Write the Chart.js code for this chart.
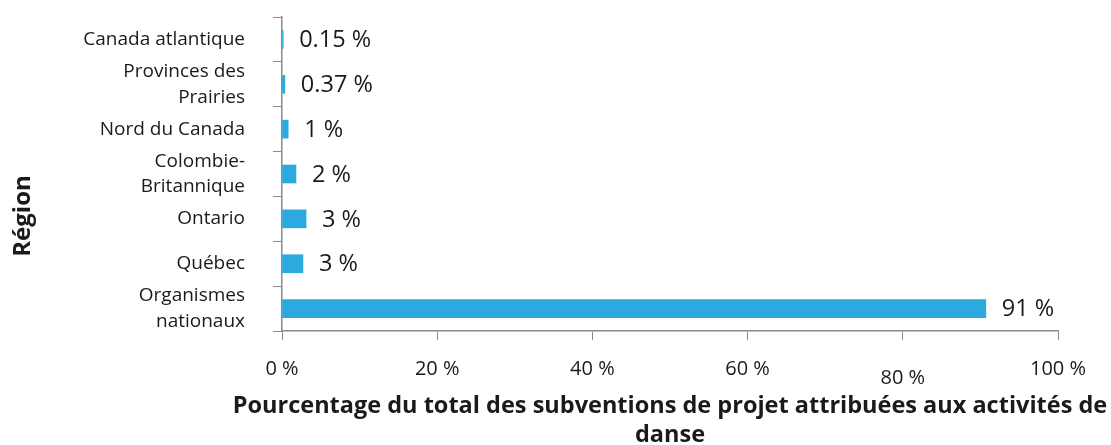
<!DOCTYPE html>
<html lang="fr">
<head>
<meta charset="utf-8">
<title>Subventions de projet - danse</title>
<script src="https://cdn.jsdelivr.net/npm/chart.js@4/dist/chart.umd.min.js"></script>
<style>
  html, body { margin: 0; padding: 0; background: #fff; }
  #wrap { width: 1111px; height: 445px; }
</style>
</head>
<body>
<div id="wrap"><canvas id="chart" width="1111" height="445"></canvas></div>
<script>
// données
const regions = [
  'Canada atlantique',
  ['Provinces des', 'Prairies'],
  'Nord du Canada',
  ['Colombie-', 'Britannique'],
  'Ontario',
  'Québec',
  ['Organismes', 'nationaux']
];
const pourcentages = [0.15, 0.37, 0.8, 1.8, 3.1, 2.7, 90.7];
const etiquettes = ['0.15 %', '0.37 %', '1 %', '2 %', '3 %', '3 %', '91 %'];
const graduations = [0, 20, 40, 60, 80, 100];
const titreX = ['Pourcentage du total des subventions de projet attribuées aux activités de', 'danse'];
const titreY = 'Région';

const TEXTE = '#1a1a1a';
const AXE = '#8a8a8a';

// étiquettes des barres
const etiquettesBarres = {
  id: 'etiquettesBarres',
  afterDatasetsDraw(chart) {
    const ctx = chart.ctx;
    const meta = chart.getDatasetMeta(0);
    ctx.save();
    ctx.font = '23.5px "Open Sans", sans-serif';
    ctx.fillStyle = TEXTE;
    ctx.textBaseline = 'middle';
    ctx.textAlign = 'left';
    meta.data.forEach((bar, i) => {
      ctx.fillText(etiquettes[i], bar.x + 16, bar.y + 1);
    });
    ctx.restore();
  }
};

// titres des axes (sans compression de largeur)
const titresAxes = {
  id: 'titresAxes',
  afterDraw(chart) {
    const ctx = chart.ctx;
    const area = chart.chartArea;
    ctx.save();
    ctx.fillStyle = TEXTE;
    ctx.textBaseline = 'middle';
    ctx.textAlign = 'center';

    ctx.font = 'bold 23.5px "Open Sans", sans-serif';
    const cx = (area.left + area.right) / 2;
    titreX.forEach((ligne, i) => {
      ctx.fillText(ligne, cx, 406 + i * 29);
    });

    ctx.translate(23, 216);
    ctx.rotate(-Math.PI / 2);
    ctx.font = 'bold 24px "Open Sans", sans-serif';
    ctx.fillText(titreY, 0, 0);
    ctx.restore();
  }
};

new Chart(document.getElementById('chart'), {
  type: 'bar',
  data: {
    labels: regions,
    datasets: [{
      data: pourcentages,
      backgroundColor: '#2ca9de',
      borderWidth: 0,
      barThickness: 18
    }]
  },
  options: {
    indexAxis: 'y',
    responsive: false,
    animation: false,
    layout: { padding: { top: 17, right: 53, left: 0, bottom: 0 } },
    plugins: {
      legend: { display: false },
      tooltip: { enabled: false }
    },
    scales: {
      x: {
        min: 0,
        max: 100,
        afterBuildTicks: (scale) => {
          scale.ticks = graduations.map(v => ({ value: v }));
        },
        afterFit: (scale) => { scale.height = 114; },
        grid: {
          drawOnChartArea: false,
          tickLength: 9,
          color: AXE
        },
        border: { color: AXE, width: 1.5 },
        ticks: {
          padding: 17,
          color: TEXTE,
          maxRotation: 0,
          font: (c) => ({
            family: '"Open Sans", sans-serif',
            size: 20,
            lineHeight: c.tick && c.tick.value === 80 ? 2.1 : 1.2
          }),
          callback: (v) => v + ' %'
        },
        title: { display: false }
      },
      y: {
        afterFit: (scale) => {
          scale.width = 282;
          scale.paddingTop = 0;
          scale.paddingBottom = 0;
        },
        grid: {
          drawOnChartArea: false,
          tickLength: 9,
          color: AXE
        },
        border: { color: AXE, width: 1.5 },
        ticks: {
          autoSkip: false,
          padding: 28,
          color: TEXTE,
          font: { family: '"Open Sans", sans-serif', size: 19, lineHeight: 1.35 }
        }
      }
    }
  },
  plugins: [etiquettesBarres, titresAxes]
});
</script>
</body>
</html>
